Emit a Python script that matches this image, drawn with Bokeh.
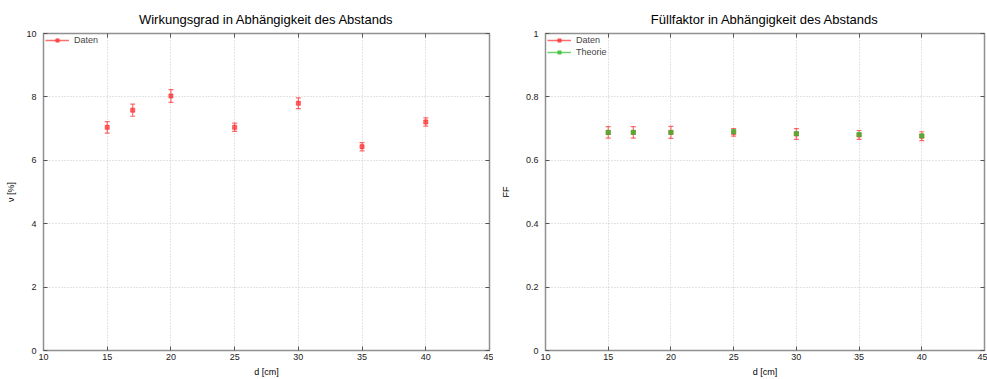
from bokeh.plotting import figure
from bokeh.layouts import row
from bokeh.models import (Whisker, ColumnDataSource, FixedTicker, LinearAxis, Legend, LegendItem,
                          CustomJSTickFormatter, Range1d, TeeHead)
from bokeh.embed import file_html
from bokeh.resources import INLINE

# ---- data ----
d_cm = [15, 17, 20, 25, 30, 35, 40]
eta = [7.04, 7.58, 8.03, 7.04, 7.80, 6.43, 7.21]
eta_err = [0.18, 0.19, 0.20, 0.13, 0.17, 0.13, 0.13]
ff_data = [0.688, 0.688, 0.688, 0.688, 0.683, 0.680, 0.676]
ff_err = [0.018, 0.018, 0.019, 0.012, 0.017, 0.014, 0.014]
ff_theo = [0.688, 0.688, 0.688, 0.690, 0.684, 0.681, 0.677]
ff_theo_err = [0.006, 0.005, 0.005, 0.005, 0.005, 0.005, 0.005]
x_ticks = [10, 15, 20, 25, 30, 35, 40, 45]
y1_ticks = [0, 2, 4, 6, 8, 10]
y2_ticks = [0, 0.2, 0.4, 0.6, 0.8, 1]

FONT = "Liberation Sans"
RED = "#ff3030"
GREEN = "#30c030"
GRAY = "#909090"


def make_fig(title, width, left, right, ymax, yticks, ylabel, label_standoff):
    p = figure(width=width, height=379, output_backend="svg", toolbar_location=None,
               x_range=Range1d(10, 45), y_range=Range1d(0, ymax),
               min_border_left=left, min_border_right=right,
               min_border_top=33, min_border_bottom=29, title=title)
    p.title.text_font = FONT
    p.title.text_font_size = "13px"
    p.title.text_font_style = "normal"
    p.title.align = "center"
    p.title.text_color = "#000000"
    p.title.standoff = 13
    p.outline_line_color = GRAY
    p.outline_line_width = 1.5
    p.background_fill_color = "white"
    p.border_fill_color = "white"
    for ax in p.xaxis + p.yaxis:
        ax.axis_line_color = GRAY
        ax.major_tick_line_color = "#555555"
        ax.major_tick_in = 4
        ax.major_tick_out = 0
        ax.minor_tick_line_color = None
        ax.major_label_text_font = FONT
        ax.major_label_text_font_size = "9px"
        ax.major_label_text_color = "#222222"
        ax.axis_label_text_font = FONT
        ax.axis_label_text_font_size = "9px"
        ax.axis_label_text_font_style = "normal"
        ax.axis_label_text_color = "#000000"
    p.xaxis.ticker = FixedTicker(ticks=x_ticks)
    p.yaxis.ticker = FixedTicker(ticks=yticks)
    p.xaxis.axis_label = "d [cm]"
    p.xaxis.major_label_standoff = 3
    p.xaxis.axis_label_standoff = 4
    p.yaxis.axis_label = ylabel
    p.yaxis.major_label_standoff = 7
    p.yaxis.axis_label_standoff = label_standoff
    p.xgrid.ticker = FixedTicker(ticks=x_ticks[1:-1])
    p.ygrid.ticker = FixedTicker(ticks=yticks[1:-1])
    for g in (p.xgrid, p.ygrid):
        g.grid_line_color = "#c8c8c8"
        g.grid_line_dash = "1 2"
        g.grid_line_width = 1
    # mirrored ticks (no labels)
    blank = CustomJSTickFormatter(code="return '';")
    top = LinearAxis(ticker=FixedTicker(ticks=x_ticks), formatter=blank,
                     major_label_standoff=0, major_tick_in=4, major_tick_out=0,
                     minor_tick_line_color=None, axis_line_color=GRAY,
                     major_tick_line_color="#555555")
    rgt = LinearAxis(ticker=FixedTicker(ticks=yticks), formatter=blank,
                     major_label_standoff=0, major_tick_in=4, major_tick_out=0,
                     minor_tick_line_color=None, axis_line_color=GRAY,
                     major_tick_line_color="#555555")
    p.add_layout(top, "above")
    p.add_layout(rgt, "right")
    return p


def errbars(p, x, y, e, color, alpha=0.7):
    lo = [a - b for a, b in zip(y, e)]
    hi = [a + b for a, b in zip(y, e)]
    src = ColumnDataSource(dict(x=x, y=y, lo=lo, hi=hi))
    w = Whisker(base="x", lower="lo", upper="hi", source=src, dimension="height",
                line_color=color, line_alpha=alpha, line_width=1.2,
                upper_head=TeeHead(size=5, line_color=color, line_alpha=alpha, line_width=1.2),
                lower_head=TeeHead(size=5, line_color=color, line_alpha=alpha, line_width=1.2))
    p.add_layout(w)
    pts = p.scatter("x", "y", source=src, marker="square", size=4, color=color, alpha=alpha)
    ln = p.line(x=[float("nan")], y=[float("nan")], line_color=color, line_width=1.5,
                line_alpha=alpha)
    return pts, ln


def make_legend(items):
    return Legend(items=items, location="top_left",
                  border_line_color=None, background_fill_alpha=0, label_text_font=FONT,
                  label_text_font_size="9px", glyph_width=24, glyph_height=8, spacing=2,
                  padding=3, margin=2, label_height=10, label_standoff=5)


# ---- left chart ----
p1 = make_fig("Wirkungsgrad in Abhängigkeit des Abstands", 493, 43, 4, 10, y1_ticks, "ν [%]", 7)
s1, l1 = errbars(p1, d_cm, eta, eta_err, RED)
p1.add_layout(make_legend([LegendItem(label="Daten", renderers=[l1, s1])]))

# ---- right chart ----
p2 = make_fig("Füllfaktor in Abhängigkeit des Abstands", 494, 52, 3, 1, y2_ticks, "FF", 12)
p2.yaxis[0].formatter = CustomJSTickFormatter(code="return String(Math.round(tick*10)/10);")
s2, l2 = errbars(p2, d_cm, ff_data, ff_err, RED)
s3, l3 = errbars(p2, d_cm, ff_theo, ff_theo_err, GREEN)
p2.add_layout(make_legend([LegendItem(label="Daten", renderers=[l2, s2]),
                           LegendItem(label="Theorie", renderers=[l3, s3])]))

layout = row(p1, p2)
open("out.html", "w").write(file_html(layout, INLINE))
